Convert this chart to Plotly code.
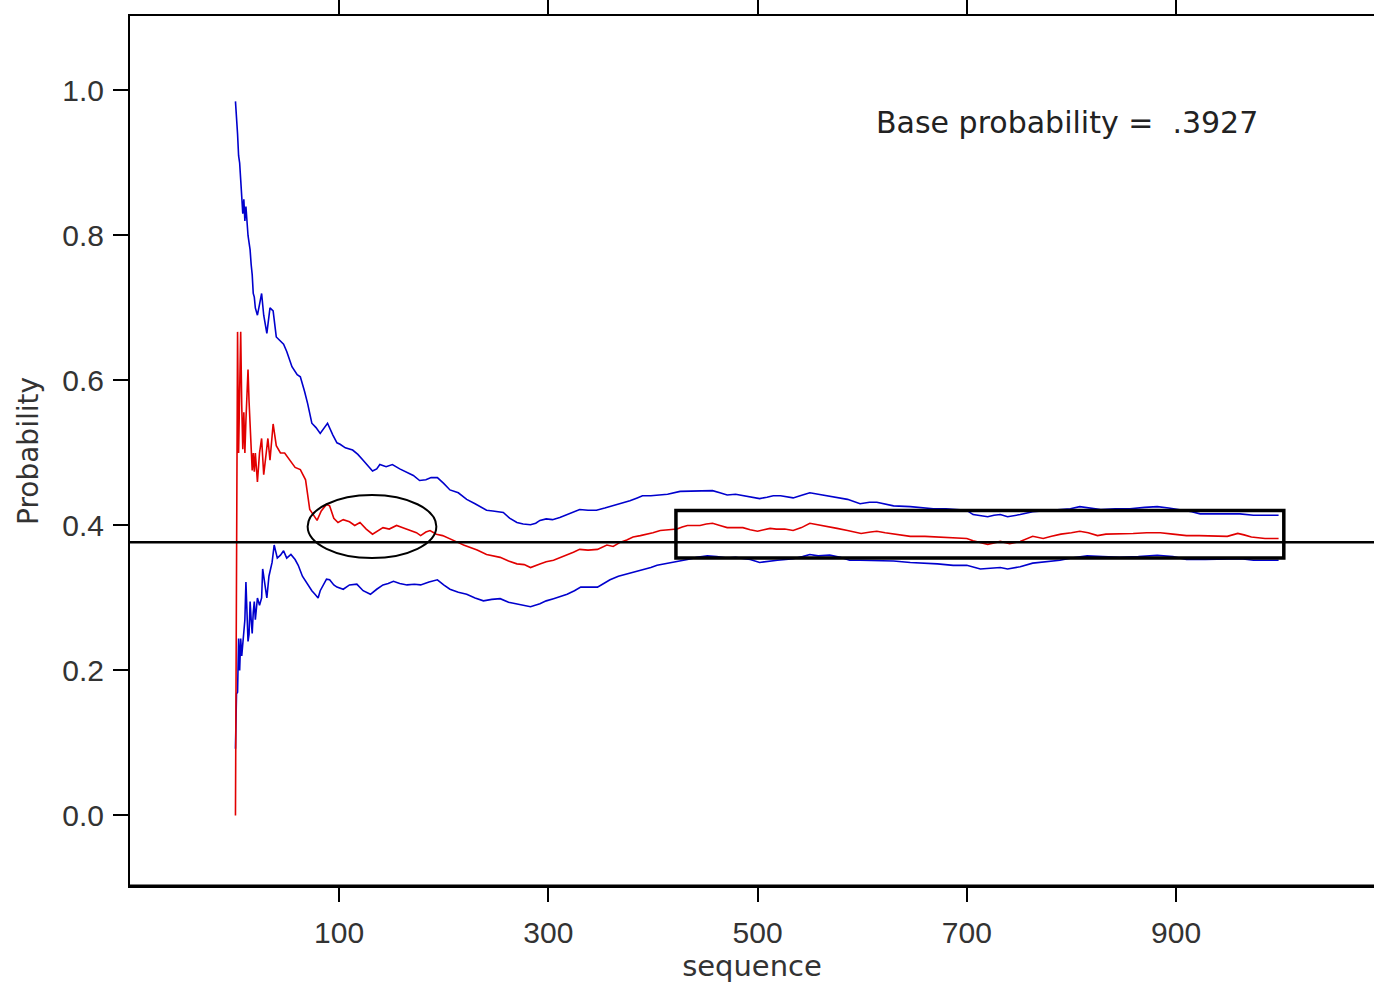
import plotly.graph_objects as go

# ---- data ----
red_x = [1, 2, 3, 4, 5, 6, 7, 8, 9, 10, 11, 12, 13, 14, 15, 16, 17, 18, 19, 20, 22, 24, 26, 28, 30, 32, 34, 37, 40, 44, 48, 53, 58, 63, 68, 72, 75, 79, 83, 88, 91, 95, 99, 104, 110, 115, 120, 126, 132, 137, 142, 148, 155, 161, 168, 174, 178, 183, 187, 193, 199, 206, 213, 219, 225, 232, 241, 248, 254, 262, 270, 277, 283, 292, 298, 305, 312, 318, 324, 330, 338, 347, 356, 362, 369, 375, 381, 388, 395, 400, 407, 415, 423, 428, 433, 440, 445, 451, 457, 464, 471, 479, 486, 493, 500, 506, 512, 518, 526, 534, 542, 550, 558, 567, 576, 586, 593, 599, 608, 614, 622, 630, 638, 646, 660, 672, 685, 694, 700, 706, 713, 720, 726, 732, 741, 751, 763, 773, 781, 790, 800, 808, 816, 825, 833, 840, 850, 859, 872, 885, 897, 910, 922, 936, 949, 954, 959, 965, 972, 985, 998]
red_y = [0.0, 0.5, 0.667, 0.5, 0.6, 0.667, 0.566, 0.505, 0.556, 0.5, 0.545, 0.583, 0.615, 0.571, 0.533, 0.5, 0.476, 0.5, 0.474, 0.5, 0.46, 0.5, 0.52, 0.47, 0.5, 0.52, 0.49, 0.54, 0.51, 0.5, 0.5, 0.49, 0.48, 0.477, 0.463, 0.422, 0.415, 0.407, 0.42, 0.429, 0.427, 0.41, 0.404, 0.408, 0.405, 0.40, 0.404, 0.395, 0.388, 0.392, 0.397, 0.395, 0.4, 0.397, 0.393, 0.39, 0.386, 0.391, 0.393, 0.388, 0.386, 0.382, 0.377, 0.373, 0.37, 0.366, 0.36, 0.358, 0.356, 0.351, 0.347, 0.346, 0.342, 0.347, 0.35, 0.352, 0.356, 0.359, 0.363, 0.367, 0.366, 0.367, 0.373, 0.371, 0.377, 0.38, 0.384, 0.386, 0.388, 0.39, 0.393, 0.394, 0.395, 0.398, 0.4, 0.4, 0.4, 0.402, 0.403, 0.4, 0.397, 0.397, 0.397, 0.394, 0.392, 0.394, 0.396, 0.395, 0.395, 0.393, 0.397, 0.403, 0.401, 0.399, 0.396, 0.393, 0.391, 0.389, 0.391, 0.392, 0.39, 0.388, 0.387, 0.385, 0.385, 0.384, 0.383, 0.382, 0.382, 0.379, 0.376, 0.374, 0.376, 0.378, 0.375, 0.378, 0.385, 0.382, 0.385, 0.388, 0.39, 0.392, 0.39, 0.386, 0.388, 0.388, 0.389, 0.389, 0.39, 0.39, 0.388, 0.386, 0.386, 0.386, 0.385, 0.387, 0.389, 0.387, 0.384, 0.382, 0.382]

upper_x = [1, 2, 3, 4, 5, 6, 7, 8, 9, 10, 11, 12, 13, 14, 15, 16, 17, 18, 19, 20, 22, 24, 26, 28, 31, 34, 37, 40, 44, 47, 50, 55, 60, 63, 67, 70, 74, 78, 82, 86, 89, 94, 98, 101, 106, 113, 118, 123, 128, 132, 136, 139, 145, 151, 158, 165, 171, 177, 183, 188, 194, 200, 206, 214, 222, 230, 236, 241, 247, 252, 257, 263, 270, 276, 283, 288, 292, 298, 304, 311, 318, 324, 330, 338, 346, 354, 362, 370, 378, 385, 390, 398, 406, 414, 426, 435, 442, 450, 457, 464, 471, 479, 486, 494, 502, 509, 515, 522, 534, 543, 550, 558, 566, 575, 586, 598, 607, 614, 622, 630, 646, 660, 668, 680, 694, 700, 706, 713, 720, 726, 732, 739, 745, 751, 763, 778, 789, 799, 808, 817, 828, 842, 856, 870, 882, 893, 904, 915, 923, 935, 949, 961, 974, 985, 998]
upper_y = [0.985, 0.95, 0.94, 0.91, 0.9, 0.877, 0.85, 0.83, 0.85, 0.82, 0.84, 0.81, 0.80, 0.79, 0.78, 0.76, 0.746, 0.72, 0.715, 0.70, 0.69, 0.705, 0.72, 0.69, 0.665, 0.7, 0.696, 0.66, 0.655, 0.65, 0.64, 0.619, 0.608, 0.605, 0.585, 0.568, 0.541, 0.535, 0.527, 0.535, 0.541, 0.525, 0.514, 0.512, 0.507, 0.504, 0.498, 0.49, 0.482, 0.475, 0.478, 0.484, 0.481, 0.484, 0.478, 0.473, 0.469, 0.462, 0.463, 0.466, 0.466, 0.458, 0.449, 0.445, 0.436, 0.43, 0.425, 0.421, 0.42, 0.419, 0.418, 0.41, 0.404, 0.402, 0.401, 0.403, 0.407, 0.409, 0.408, 0.411, 0.415, 0.419, 0.422, 0.421, 0.421, 0.424, 0.427, 0.431, 0.434, 0.438, 0.441, 0.441, 0.442, 0.443, 0.447, 0.447, 0.448, 0.448, 0.448, 0.445, 0.442, 0.443, 0.441, 0.439, 0.437, 0.439, 0.441, 0.441, 0.438, 0.442, 0.445, 0.443, 0.441, 0.439, 0.436, 0.43, 0.432, 0.432, 0.43, 0.427, 0.426, 0.424, 0.423, 0.423, 0.422, 0.421, 0.415, 0.413, 0.412, 0.414, 0.415, 0.412, 0.413, 0.415, 0.419, 0.421, 0.422, 0.423, 0.426, 0.424, 0.422, 0.423, 0.423, 0.425, 0.426, 0.424, 0.422, 0.419, 0.416, 0.416, 0.416, 0.416, 0.414, 0.414, 0.414]

lower_x = [1, 2, 3, 4, 5, 6, 7, 8, 9, 10, 11, 12, 13, 14, 15, 16, 17, 18, 19, 20, 22, 24, 26, 27, 29, 31, 33, 36, 38, 41, 44, 47, 50, 54, 58, 61, 65, 70, 74, 77, 80, 82, 88, 91, 95, 98, 104, 110, 117, 123, 130, 136, 142, 147, 152, 158, 165, 172, 178, 186, 194, 200, 206, 214, 222, 230, 238, 246, 254, 262, 270, 276, 283, 292, 298, 305, 312, 318, 325, 331, 340, 347, 353, 359, 367, 375, 383, 391, 398, 404, 412, 419, 426, 433, 442, 452, 461, 471, 479, 486, 493, 502, 511, 519, 527, 534, 543, 550, 558, 569, 579, 588, 598, 608, 618, 630, 646, 660, 672, 687, 694, 700, 713, 720, 725, 732, 739, 745, 751, 763, 776, 789, 800, 815, 830, 846, 864, 882, 897, 910, 928, 949, 962, 974, 985, 998]
lower_y = [0.092, 0.168, 0.17, 0.244, 0.2, 0.244, 0.22, 0.24, 0.25, 0.27, 0.322, 0.26, 0.24, 0.25, 0.295, 0.27, 0.251, 0.28, 0.295, 0.27, 0.30, 0.29, 0.3, 0.34, 0.32, 0.30, 0.33, 0.349, 0.373, 0.355, 0.359, 0.365, 0.355, 0.36, 0.353, 0.345, 0.33, 0.318, 0.31, 0.305, 0.3, 0.31, 0.326, 0.325, 0.318, 0.315, 0.312, 0.318, 0.319, 0.31, 0.305, 0.312, 0.318, 0.32, 0.323, 0.32, 0.318, 0.319, 0.318, 0.322, 0.325, 0.318, 0.312, 0.308, 0.305, 0.3, 0.296, 0.298, 0.299, 0.294, 0.292, 0.29, 0.288, 0.292, 0.296, 0.299, 0.302, 0.305, 0.31, 0.315, 0.315, 0.315, 0.32, 0.325, 0.33, 0.333, 0.337, 0.34, 0.342, 0.345, 0.347, 0.349, 0.351, 0.353, 0.356, 0.358, 0.357, 0.355, 0.356, 0.355, 0.353, 0.349, 0.351, 0.352, 0.353, 0.354, 0.357, 0.36, 0.358, 0.359, 0.356, 0.352, 0.352, 0.352, 0.351, 0.351, 0.349, 0.348, 0.347, 0.345, 0.345, 0.345, 0.34, 0.341, 0.342, 0.342, 0.34, 0.341, 0.343, 0.348, 0.35, 0.352, 0.355, 0.358, 0.357, 0.356, 0.357, 0.359, 0.357, 0.353, 0.353, 0.353, 0.354, 0.352, 0.352, 0.352]

x_ticks = [100, 300, 500, 700, 900]
y_ticks = [0.0, 0.2, 0.4, 0.6, 0.8, 1.0]
ref_line_y = 0.377
annotation_text = "Base probability =  .3927"
annotation_pos = (611.5, 0.956)
ellipse_box = dict(x0=70, x1=193, y0=0.355, y1=0.442)
rect_box = dict(x0=422, x1=1003, y0=0.355, y1=0.4205)

FONT = "Liberation Sans, Arial, sans-serif"
TFONT = "DejaVu Sans, sans-serif"
RED = "rgb(225,0,0)"
BLUE = "rgb(0,0,205)"

fig = go.Figure()
fig.add_trace(go.Scatter(x=upper_x, y=upper_y, mode="lines",
                         line=dict(color=BLUE, width=1.6), showlegend=False))
fig.add_trace(go.Scatter(x=lower_x, y=lower_y, mode="lines",
                         line=dict(color=BLUE, width=1.6), showlegend=False))
fig.add_trace(go.Scatter(x=red_x, y=red_y, mode="lines",
                         line=dict(color=RED, width=1.6), showlegend=False))

# horizontal reference line
fig.add_shape(type="line", xref="paper", yref="y", x0=0, x1=1,
              y0=ref_line_y, y1=ref_line_y, line=dict(color="black", width=2.5))
# ellipse
fig.add_shape(type="circle", xref="x", yref="y", **ellipse_box,
              line=dict(color="black", width=2))
# rectangle
fig.add_shape(type="rect", xref="x", yref="y", **rect_box,
              line=dict(color="black", width=3.5))
# thick bottom axis line
fig.add_shape(type="line", xref="paper", yref="paper", x0=0, x1=1, y0=0, y1=0,
              line=dict(color="black", width=3))

fig.add_annotation(x=annotation_pos[0], y=annotation_pos[1], xref="x", yref="y",
                   xanchor="left", yanchor="middle", text=annotation_text,
                   showarrow=False,
                   font=dict(family=TFONT, size=30, color="#222"))

# y-axis title placed as a rotated annotation
fig.add_annotation(x=-0.082, y=0.5, xref="paper", yref="paper",
                   xanchor="center", yanchor="middle", text="Probability",
                   textangle=-90, showarrow=False,
                   font=dict(family=TFONT, size=28, color="#333"))

fig.update_layout(
    width=1374, height=990,
    margin=dict(l=130, r=0, t=10, b=104),
    paper_bgcolor="white", plot_bgcolor="white",
    font=dict(family=FONT, size=30, color="#333"),
    xaxis=dict(range=[-99.8, 1089.2], tickvals=x_ticks, ticks="outside",
               ticklen=14, tickwidth=1.5, tickcolor="black",
               showline=True, linecolor="black", linewidth=2, mirror="allticks",
               showgrid=False, zeroline=False, ticklabelstandoff=5,
               title=dict(text="sequence", standoff=4,
                          font=dict(family=TFONT, size=29, color="#333")),
               tickfont=dict(family=FONT, size=30, color="#333")),
    yaxis=dict(range=[-0.0973, 1.1027], tickvals=y_ticks, tickformat=".1f",
               ticks="outside", ticklen=15, tickwidth=1.5, tickcolor="black",
               showline=True, linecolor="black", linewidth=2, mirror=False,
               showgrid=False, zeroline=False, ticklabelstandoff=3,
               tickfont=dict(family=FONT, size=30, color="#333")),
)

fig.write_html("out.html",
               config={"displayModeBar": False},
               post_script="document.body.style.margin='0';"
                           "document.body.style.overflow='hidden';")
